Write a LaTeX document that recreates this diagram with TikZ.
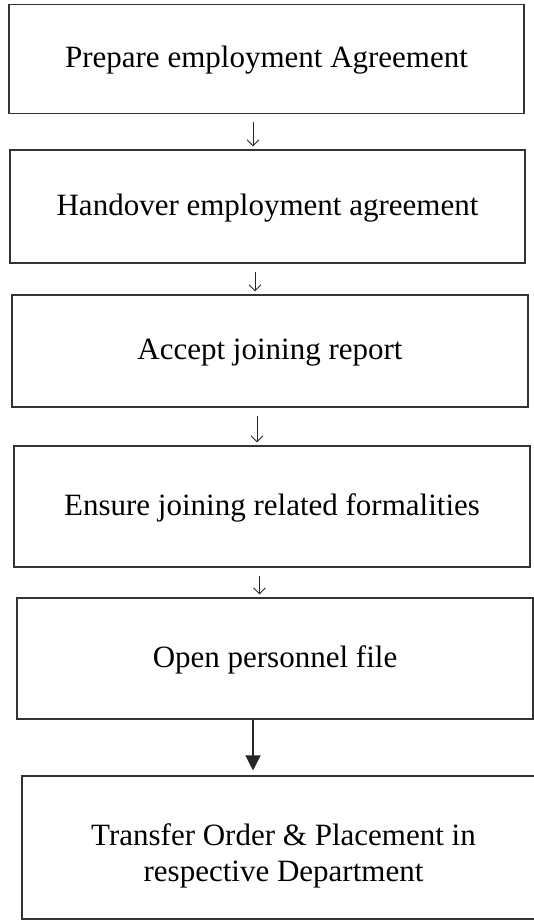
\documentclass[tikz,border=0pt]{standalone}
\usepackage{fontspec}
\setmainfont{Liberation Serif}
\usetikzlibrary{arrows.meta}
\begin{document}
\begin{tikzpicture}[x=1pt,y=-1pt,
                    box node/.style={rectangle,draw=black!80,line width=1.1pt,inner sep=0pt,
                                     font=\fontsize{31}{36}\selectfont,align=center},
                    one line/.style={text height=22pt,text depth=5pt},
                    flow/.style={draw=black!85,line width=0.9pt,-{Straight Barb[length=6pt,width=12pt]},
                                 shorten <=8pt,shorten >=3pt},
                    big flow/.style={draw=black!85,line width=1.3pt,-{Triangle[length=15pt,width=15pt]},
                                     shorten >=5pt}
                   ]
      \useasboundingbox (0,0) rectangle (534,920);
      \node[box node,one line,minimum width=515pt,minimum height=108.5pt] (1) at (266.5,59) {Prepare employment Agreement};
      \node[box node,one line,minimum width=515pt,minimum height=113pt] (2) at (267.5,206.5) {Handover employment agreement};
      \node[box node,one line,minimum width=516pt,minimum height=112pt] (3) at (270,351) {Accept joining report};
      \node[box node,one line,minimum width=516pt,minimum height=121pt] (4) at (272,506.5) {Ensure joining related formalities};
      \node[box node,one line,minimum width=516pt,minimum height=121pt] (5) at (275,658.5) {Open personnel file};
      \node[box node,minimum width=523pt,minimum height=143pt] (6) at (283.5,847.5) {\rule{0pt}{38pt}Transfer Order \& Placement in\\respective Department};
      \path%
        ([xshift=-13.5pt]1.south) edge[flow] ([xshift=-14.5pt]2.north)  % arrows sit left of centre
        ([xshift=-12.5pt]2.south) edge[flow] ([xshift=-15pt]3.north)
        ([xshift=-13pt]3.south) edge[flow] ([xshift=-15pt]4.north)
        ([xshift=-12.5pt]4.south) edge[flow] ([xshift=-15.5pt]5.north)
        ([xshift=-22pt]5.south) edge[big flow] ([xshift=-30.5pt]6.north);
 \end{tikzpicture}
\end{document}
